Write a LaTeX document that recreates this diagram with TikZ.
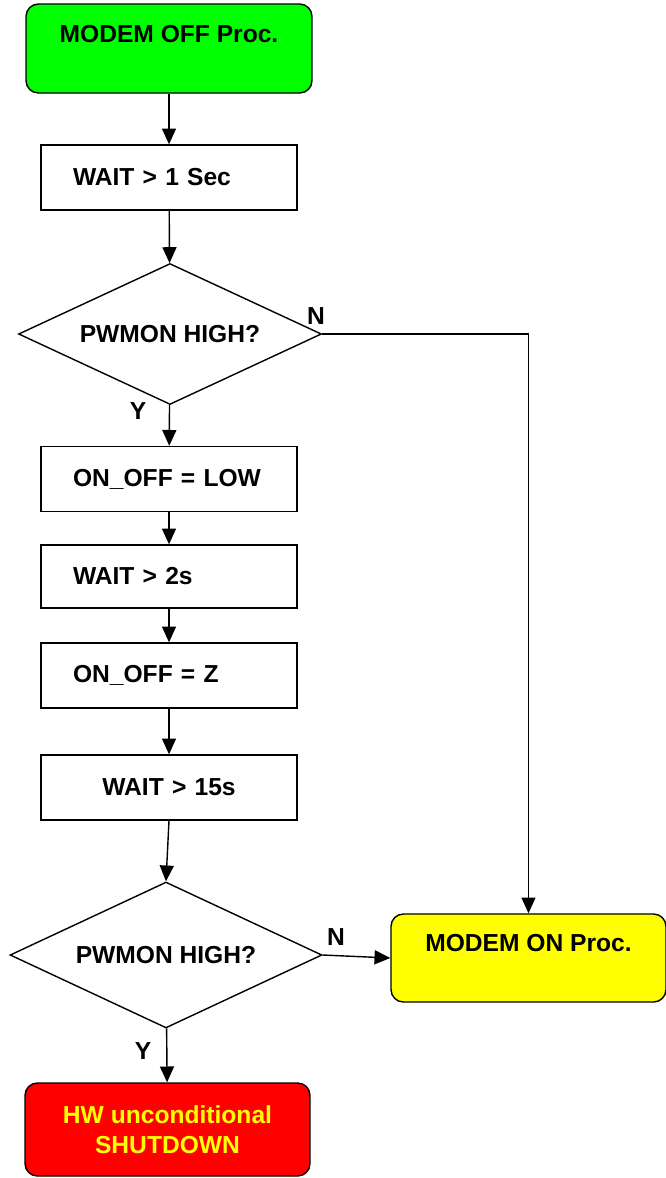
\documentclass[tikz,border=0pt]{standalone}
\usepackage{fontspec}
\setmainfont{Liberation Sans}
\usetikzlibrary{arrows.meta,shapes.geometric}

\definecolor{procgreen}{RGB}{0,255,0}
\definecolor{procyellow}{RGB}{255,255,0}
\definecolor{procred}{RGB}{255,0,0}

\tikzset{
  proc/.style={draw, rounded corners=7pt, minimum width=5.72cm, minimum height=1.78cm, align=center},
  stepbox/.style={draw, minimum width=5.12cm, minimum height=1.3cm, text width=3.84cm, inner xsep=0.64cm, align=left},
  test/.style={draw, diamond, inner sep=0pt, aspect=2.15},
  flow/.style={-{Triangle[length=9pt,width=8pt]}}
}

\begin{document}
\begin{tikzpicture}[x=0.02cm,y=-0.02cm,line width=0.8pt,font=\fontsize{14}{17}\selectfont\bfseries]
\useasboundingbox (0,0) rectangle (666,1178);

% start block
\node[proc, fill=procgreen] (off) at (169,48.5) {MODEM OFF Proc.\\ \mbox{}};

% first part of the sequence
\node[stepbox] (wait1) at (169,177.5) {WAIT > 1 Sec};
\node[test, minimum width=6.06cm, minimum height=2.82cm] (pw1) at (170,334) {PWMON HIGH?};
\node[stepbox] (low) at (169,479) {ON\_OFF = LOW};
\node[stepbox, minimum height=1.26cm] (wait2) at (169,576.5) {WAIT > 2s};
\node[stepbox] (zed) at (169,675.5) {ON\_OFF = Z};
\node[stepbox, align=center] (wait15) at (169,787.5) {WAIT > 15s};
\node[test, minimum width=6.24cm, minimum height=2.92cm] (pw2) at (166,955) {PWMON HIGH?};

% end blocks
\node[proc, fill=procyellow, minimum width=5.5cm, minimum height=1.76cm] (on) at (528.5,958) {MODEM ON Proc.\\ \mbox{}};
\node[proc, fill=procred, text=procyellow, minimum width=5.7cm, minimum height=1.86cm] (hw) at (167.5,1129.5) {HW unconditional\\SHUTDOWN};

% yes / no marks
\node (n1) at (316,316) {N};
\node (y1) at (138,411) {Y};
\node (n2) at (336,937) {N};
\node (y2) at (143,1051) {Y};

\draw[flow] (off) -- (wait1);
\draw[flow] (wait1) -- (pw1);
\draw[flow] (pw1) -- (low);
\draw[flow] (pw1.east) -| (on.north);
\draw[flow] (low) -- (wait2);
\draw[flow] (wait2) -- (zed);
\draw[flow] (zed) -- (wait15);
\draw[flow] (wait15.south) -- (pw2.north);
\draw[flow] (pw2.east) -- (on.west);
\draw[flow] (pw2) -- (hw);
\end{tikzpicture}
\end{document}
